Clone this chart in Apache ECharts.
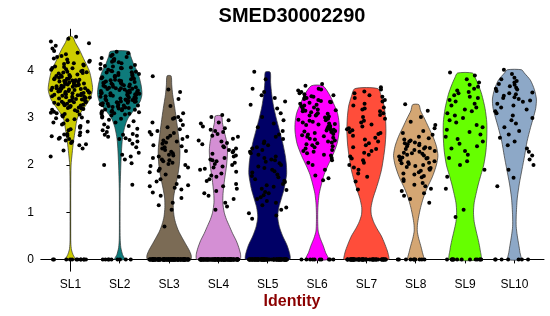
<!DOCTYPE html>
<html><head><meta charset="utf-8">
<script src="https://cdn.jsdelivr.net/npm/echarts@6/dist/echarts.min.js"></script>
<style>html,body{margin:0;padding:0;background:#fff}#c{width:550px;height:316px}</style>
</head><body><div id="c"></div>
<script>
const categories = ['SL1','SL2','SL3','SL4','SL5','SL6','SL7','SL8','SL9','SL10'];
const colors = ['#CCCC00','#0E7B7B','#7B6B55','#D48FD4','#000066','#FF00FF','#FF4D3A','#D4A673','#66FF00','#8DA8C7'];
const yTicks = [0,1,2,3,4];

// violin outline: [expression value, relative half-width]
const violinSL1 = [[0,0.21],[0.1,0.12],[0.2,0.05],[0.35,0.02],[0.6,0.015],[1,0.015],[1.5,0.015],[2,0.03],[2.25,0.08],[2.5,0.14],[2.75,0.22],[3.0,0.32],[3.2,0.6],[3.4,0.88],[3.6,1.0],[3.8,0.95],[4.0,0.85],[4.2,0.65],[4.45,0.4],[4.6,0.22],[4.72,0.1]];
const violinSL2 = [[0,0.23],[0.1,0.13],[0.25,0.05],[0.45,0.02],[1.0,0.015],[1.5,0.02],[2.0,0.05],[2.3,0.08],[2.55,0.12],[2.8,0.22],[3.0,0.38],[3.2,0.7],[3.35,0.92],[3.5,1.0],[3.7,0.96],[3.95,0.82],[4.15,0.62],[4.3,0.5],[4.41,0.42]];
const violinSL3 = [[0,0.97],[0.08,1.0],[0.2,0.9],[0.3,0.78],[0.45,0.6],[0.6,0.43],[0.75,0.31],[0.9,0.23],[1.1,0.19],[1.3,0.2],[1.5,0.27],[1.75,0.38],[2.0,0.46],[2.3,0.49],[2.6,0.43],[2.9,0.35],[3.2,0.26],[3.5,0.16],[3.7,0.12],[3.89,0.09]];
const violinSL4 = [[0,0.97],[0.1,1.0],[0.25,0.92],[0.4,0.8],[0.55,0.64],[0.7,0.5],[0.85,0.36],[1.0,0.26],[1.2,0.2],[1.4,0.21],[1.7,0.28],[2.0,0.37],[2.3,0.41],[2.5,0.37],[2.7,0.27],[2.9,0.18],[3.04,0.14]];
const violinSL5 = [[0,0.99],[0.1,1.0],[0.3,0.87],[0.5,0.67],[0.7,0.52],[0.9,0.45],[1.1,0.5],[1.3,0.62],[1.5,0.74],[1.8,0.85],[2.0,0.84],[2.2,0.79],[2.5,0.66],[2.75,0.52],[3.0,0.38],[3.25,0.26],[3.5,0.18],[3.75,0.13],[3.97,0.11]];
const violinSL6 = [[0,0.5],[0.15,0.38],[0.3,0.27],[0.45,0.14],[0.6,0.05],[0.8,0.03],[1.0,0.03],[1.2,0.05],[1.4,0.1],[1.6,0.2],[1.8,0.32],[2.0,0.5],[2.2,0.7],[2.45,0.9],[2.7,0.99],[2.9,0.99],[3.1,0.92],[3.3,0.75],[3.5,0.55],[3.68,0.26]];
const violinSL7 = [[0,1.0],[0.1,0.99],[0.2,0.93],[0.35,0.81],[0.5,0.67],[0.65,0.48],[0.8,0.32],[0.95,0.22],[1.1,0.21],[1.3,0.3],[1.5,0.44],[1.7,0.57],[1.9,0.68],[2.15,0.77],[2.4,0.84],[2.7,0.88],[3.0,0.86],[3.25,0.8],[3.45,0.68],[3.62,0.52]];
const violinSL8 = [[0,0.35],[0.15,0.3],[0.3,0.22],[0.45,0.13],[0.6,0.07],[0.75,0.08],[0.9,0.13],[1.1,0.22],[1.3,0.34],[1.5,0.5],[1.75,0.75],[2.0,0.93],[2.2,1.0],[2.4,0.93],[2.6,0.78],[2.8,0.58],[3.0,0.38],[3.15,0.22],[3.28,0.14]];
const violinSL9 = [[0,0.7],[0.2,0.68],[0.4,0.6],[0.6,0.5],[0.8,0.41],[1.0,0.38],[1.2,0.41],[1.4,0.5],[1.6,0.6],[1.8,0.72],[2.0,0.84],[2.3,0.94],[2.6,0.98],[2.9,0.98],[3.2,0.9],[3.5,0.75],[3.7,0.6],[3.85,0.46],[3.95,0.34]];
const violinSL10 = [[0,0.29],[0.15,0.25],[0.3,0.2],[0.5,0.13],[0.7,0.08],[0.9,0.08],[1.1,0.1],[1.3,0.13],[1.6,0.22],[1.9,0.34],[2.2,0.46],[2.5,0.57],[2.8,0.73],[3.0,0.85],[3.2,0.96],[3.4,0.99],[3.6,0.9],[3.8,0.72],[3.95,0.45],[4.02,0.32]];

// non-zero cell expression values per cluster
const cellsSL1 = [2.18,2.31,2.35,2.42,2.44,2.47,2.5,2.52,2.56,2.58,2.61,2.63,2.65,2.66,2.69,2.71,2.74,2.76,2.79,2.81,2.83,2.86,2.88,2.9,2.92,2.95,2.97,2.99,2.62,2.55,
3.01,3.03,3.05,3.07,3.08,3.1,3.11,3.13,3.14,3.16,3.17,3.19,3.2,3.21,3.22,3.24,3.25,3.26,3.27,3.28,3.29,3.23,
3.3,3.31,3.32,3.33,3.34,3.35,3.36,3.37,3.38,3.39,3.33,3.4,3.41,3.42,3.43,3.44,3.45,3.46,3.47,3.48,3.49,3.42,3.45,3.48,
3.5,3.51,3.52,3.53,3.54,3.55,3.56,3.57,3.58,3.59,3.52,3.54,3.57,3.59,3.6,3.61,3.62,3.63,3.64,3.65,3.66,3.67,3.68,3.69,3.61,3.63,3.66,3.68,
3.7,3.71,3.72,3.73,3.74,3.75,3.76,3.77,3.78,3.79,3.72,3.75,3.78,3.8,3.81,3.82,3.83,3.84,3.85,3.86,3.87,3.88,3.89,3.83,
3.9,3.91,3.92,3.94,3.95,3.96,3.97,3.98,3.99,4.0,4.02,4.03,4.05,4.06,4.08,4.09,4.11,4.13,4.14,4.16,4.18,4.19,
4.21,4.24,4.26,4.29,4.31,4.35,4.38,4.42,4.47,4.53,4.58,4.62,4.68,4.72];
const cellsSL2 = [1.58,2.0,2.04,2.12,2.18,2.22,2.26,2.38,2.45,2.5,2.53,2.57,2.6,2.62,2.64,2.66,2.7,2.74,2.77,2.8,2.83,2.86,2.9,2.93,2.96,2.98,2.64,2.55,
3.01,3.03,3.05,3.07,3.08,3.1,3.09,3.11,3.12,3.14,3.15,3.17,3.18,3.19,3.13,3.16,3.2,3.21,3.22,3.24,3.25,3.26,3.27,3.28,3.29,3.23,3.26,
3.3,3.31,3.32,3.33,3.34,3.35,3.36,3.37,3.38,3.39,3.32,3.35,3.38,3.4,3.41,3.42,3.43,3.44,3.45,3.46,3.47,3.48,3.49,3.41,3.44,3.47,3.49,
3.5,3.51,3.52,3.53,3.54,3.55,3.56,3.57,3.58,3.59,3.52,3.55,3.58,3.6,3.61,3.62,3.63,3.64,3.65,3.66,3.67,3.68,3.69,3.63,3.66,
3.7,3.71,3.72,3.73,3.74,3.75,3.76,3.77,3.78,3.79,3.74,3.8,3.81,3.82,3.84,3.85,3.86,3.87,3.88,3.89,3.83,
3.9,3.91,3.92,3.93,3.95,3.96,3.97,3.98,3.99,4.0,4.02,4.04,4.05,4.07,4.09,4.06,4.1,4.12,4.14,4.16,4.18,4.19,
4.21,4.23,4.25,4.27,4.29,4.31,4.34,4.37,4.4];
const cellsSL3 = [3.88,3.6,3.55,3.4,3.25,3.1,3.0,3.02,2.98,2.95,2.9,2.85,2.8,2.76,2.72,2.7,2.68,2.65,2.62,2.6,
2.58,2.55,2.52,2.5,2.48,2.45,2.42,2.4,2.38,2.35,2.32,2.3,2.28,2.25,2.22,2.2,2.18,2.15,2.12,2.1,2.08,2.05,2.02,2.0,1.98,1.95,1.92,
1.88,1.85,1.8,1.75,1.7,1.65,1.6,1.57,1.55,1.52,1.48,1.42,1.35,1.3,1.2,1.15,1.05,0.7];
const cellsSL4 = [3.06,3.02,2.95,2.9,2.88,2.82,2.78,2.75,2.72,2.7,2.66,2.62,2.6,2.56,2.52,2.5,2.47,2.44,2.4,2.38,2.35,2.32,2.3,2.27,2.24,2.2,2.18,2.15,2.12,2.1,2.08,2.05,2.02,2.0,1.97,1.95,1.92,1.9,1.86,1.82,1.78,1.75,1.7,1.66,1.6,1.55,1.5,1.45,1.4,1.35,1.28,1.2,1.12,1.05];
const cellsSL5 = [3.98,3.82,3.62,3.55,3.48,3.42,3.35,3.28,3.2,3.1,3.02,2.95,2.88,2.8,2.72,2.65,2.6,2.55,2.5,2.46,2.42,2.38,2.35,2.32,2.28,2.25,2.22,2.18,2.15,2.12,2.1,2.07,2.04,2.0,1.97,1.94,1.9,1.87,1.84,1.8,1.77,1.74,1.7,1.67,1.64,1.6,1.57,1.54,1.5,1.47,1.43,1.4,1.36,1.32,1.28,1.24,1.2,1.15,1.1,1.05,0.98,0.93,0.86];
const cellsSL6 = [3.72,3.68,3.62,3.6,3.58,3.55,3.52,3.5,3.48,3.46,3.44,3.42,3.4,3.38,3.36,3.34,3.32,3.3,3.28,3.26,3.24,3.22,3.2,3.18,3.16,3.14,3.12,3.1,3.09,3.07,3.05,3.03,3.01,3.0,2.98,2.96,2.94,2.92,2.9,2.88,2.87,2.85,2.83,2.82,2.8,2.78,2.76,2.75,2.73,2.72,2.7,2.68,2.66,2.65,2.63,2.61,2.6,2.58,2.56,2.54,2.52,2.5,2.48,2.46,2.44,2.42,2.4,2.38,2.35,2.32,2.3,2.28,2.25,2.22,2.2,2.15,2.1,2.05,2.0,1.9,1.78,1.72,1.68,3.33,3.05,2.95,2.86,2.71,3.15,3.45];
const cellsSL7 = [3.65,3.6,3.56,3.52,3.48,3.45,3.42,3.38,3.35,3.3,3.26,3.22,3.18,3.14,3.1,3.06,3.02,2.98,2.94,2.9,2.86,2.82,2.78,2.74,2.7,2.66,2.62,2.58,2.54,2.5,2.46,2.42,2.38,2.34,2.3,2.26,2.22,2.18,2.14,2.1,2.05,2.0,1.95,1.9,1.82,1.75,1.65,1.48,2.76,2.68,3.2];
const cellsSL8 = [3.29,3.15,3.02,2.92,2.85,2.78,2.72,2.68,2.64,2.6,2.57,2.54,2.52,2.5,2.48,2.46,2.44,2.42,2.4,2.38,2.36,2.34,2.32,2.3,2.28,2.26,2.24,2.22,2.2,2.18,2.16,2.14,2.12,2.1,2.08,2.06,2.04,2.02,2.0,1.98,1.96,1.94,1.92,1.9,1.88,1.85,1.82,1.8,1.77,1.74,1.7,1.66,1.62,1.58,1.55,1.5,1.45,1.4,1.35,1.28,1.2,2.45,2.35,2.25,2.15,2.05];
const cellsSL9 = [3.96,3.9,3.82,3.75,3.7,3.66,3.62,3.58,3.55,3.52,3.48,3.45,3.42,3.38,3.35,3.3,3.26,3.22,3.18,3.14,3.1,3.05,3.0,2.95,2.9,2.85,2.8,2.75,2.7,2.65,2.6,2.55,2.5,2.45,2.4,2.35,2.3,2.22,2.15,2.08,2.0,1.9,1.75,1.5,1.05,0.9];
const cellsSL10 = [4.02,3.93,3.85,3.82,3.78,3.75,3.72,3.7,3.67,3.64,3.62,3.6,3.57,3.54,3.52,3.5,3.47,3.44,3.42,3.4,3.37,3.34,3.3,3.26,3.22,3.18,3.14,3.1,3.05,3.0,2.95,2.88,2.8,2.72,2.65,2.58,2.5,2.42,2.35,2.28,2.2,2.12,2.0,1.9,1.73,1.55];
// number of cells with zero expression per cluster
const zeroCells = [12,9,110,100,90,10,60,10,14,7];

const violins = [violinSL1,violinSL2,violinSL3,violinSL4,violinSL5,violinSL6,violinSL7,violinSL8,violinSL9,violinSL10];
const cells = [cellsSL1,cellsSL2,cellsSL3,cellsSL4,cellsSL5,cellsSL6,cellsSL7,cellsSL8,cellsSL9,cellsSL10];

const HALF = 0.45, JIT = 0.4;
function jitter(i, k) { const s = Math.sin(i * 127.1 + k * 311.7) * 43758.5453; return ((s - Math.floor(s)) * 2 - 1) * JIT; }

const pts = [];
cells.forEach((arr, k) => {
  arr.forEach((v, i) => pts.push([k + jitter(i, k), v]));
  for (let i = 0; i < zeroCells[k]; i++) pts.push([k + jitter(i + 500, k), 0]);
});

const chart = echarts.init(document.getElementById('c'), null, {renderer: 'canvas'});
const FONT = 'Liberation Sans, Arial, sans-serif';
chart.setOption({
  animation: false,
  grid: {left: 40.8, right: 6, top: 29.2, bottom: 44.8},
  xAxis: {
    type: 'value', min: -0.6, max: 9.6,
    axisLine: {show: true, lineStyle: {color: '#000', width: 1}},
    axisTick: {show: true, customValues: categories.map((c, i) => i), length: 4, lineStyle: {color: '#000'}},
    axisLabel: {customValues: categories.map((c, i) => i), formatter: v => categories[Math.round(v)], color: '#000', fontSize: 12, margin: 7, fontFamily: FONT},
    splitLine: {show: false}
  },
  yAxis: {
    type: 'value', min: -0.25, max: 4.88,
    axisLine: {show: true, lineStyle: {color: '#000', width: 1}},
    axisTick: {show: true, customValues: yTicks, length: 4, lineStyle: {color: '#000'}},
    axisLabel: {customValues: yTicks, color: '#000', fontSize: 12, margin: 7, fontFamily: FONT},
    splitLine: {show: false}
  },
  graphic: [
    {type: 'text', x: 292, y: 16, style: {text: 'SMED30002290', font: 'bold 20px ' + FONT, fill: '#000', textAlign: 'center', textVerticalAlign: 'middle', align: 'center', verticalAlign: 'middle'}},
    {type: 'text', x: 292, y: 302, style: {text: 'Identity', font: 'bold 16px ' + FONT, fill: '#8B0000', textAlign: 'center', textVerticalAlign: 'middle', align: 'center', verticalAlign: 'middle'}}
  ],
  series: [
    {
      type: 'custom', silent: true, z: 1,
      data: categories.map((c, i) => [i, 0]),
      encode: {x: 0, y: 1},
      renderItem: (params, api) => {
        const k = params.dataIndex;
        const prof = violins[k];
        const left = prof.map(p => api.coord([k - p[1] * HALF, p[0]]));
        const right = prof.slice().reverse().map(p => api.coord([k + p[1] * HALF, p[0]]));
        return {type: 'polygon', shape: {points: left.concat(right), smooth: 0.25},
          style: {fill: colors[k], stroke: '#333', lineWidth: 0.7}};
      }
    },
    {
      type: 'scatter', silent: true, z: 3, symbol: 'circle', symbolSize: 4,
      itemStyle: {color: '#000', opacity: 1}, data: pts
    }
  ]
});
</script></body></html>
